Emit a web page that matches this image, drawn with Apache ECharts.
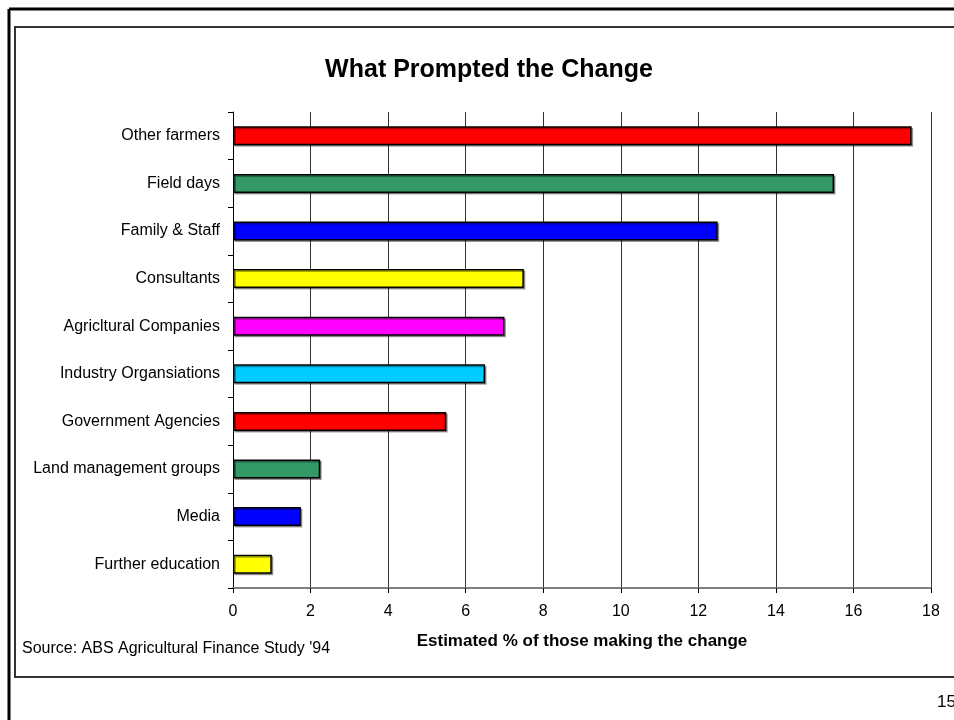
<!DOCTYPE html>
<html>
<head>
<meta charset="utf-8">
<style>
  html, body { margin: 0; padding: 0; background: #fff; }
  #chart { width: 954px; height: 720px; }
</style>
<script src="https://cdn.jsdelivr.net/npm/echarts@6/dist/echarts.min.js"></script>
</head>
<body>
<div id="chart"></div>
<script>
const categories = [
  "Other farmers",
  "Field days",
  "Family & Staff",
  "Consultants",
  "Agricltural Companies",
  "Industry Organsiations",
  "Government Agencies",
  "Land management groups",
  "Media",
  "Further education"
];
const values = [17.5, 15.5, 12.5, 7.5, 7.0, 6.5, 5.5, 2.25, 1.75, 1.0];
const barColors = ["#FF0000", "#339966", "#0000FF", "#FFFF00", "#FF00FF", "#00CCFF", "#FF0000", "#339966", "#0000FF", "#FFFF00"];
const xTicks = { min: 0, max: 18, interval: 2 };
const titleText = "What Prompted the Change";
const xAxisTitle = "Estimated % of those making the change";
const sourceText = "Source: ABS Agricultural Finance Study '94";
const pageNumber = "15";

const FONT = "'Liberation Sans', Arial, sans-serif";
const chart = echarts.init(document.getElementById('chart'), null, { renderer: 'canvas' });

const option = {
  backgroundColor: '#ffffff',
  animation: false,
  title: {
    text: titleText,
    left: 484,
    top: 53,
    textAlign: 'center',
    textStyle: { fontFamily: FONT, fontSize: 25, fontWeight: 'bold', color: '#000' }
  },
  grid: { left: 233, right: 23, top: 112, bottom: 132, containLabel: false },
  xAxis: {
    type: 'value',
    min: xTicks.min,
    max: xTicks.max,
    interval: xTicks.interval,
    position: 'bottom',
    name: xAxisTitle,
    nameLocation: 'middle',
    nameGap: 45,
    nameTextStyle: { fontFamily: FONT, fontSize: 17, fontWeight: 'bold', color: '#000' },
    axisLine: { show: true, lineStyle: { color: '#808080', width: 2 } },
    axisTick: { show: true, length: 5, lineStyle: { color: '#000', width: 1 } },
    axisLabel: { margin: 16, fontFamily: FONT, fontSize: 16, color: '#000' },
    splitLine: { show: true, lineStyle: { color: '#333', width: 1 } }
  },
  yAxis: {
    type: 'category',
    data: categories,
    inverse: true,
    axisLine: { show: true, lineStyle: { color: '#000', width: 1 } },
    axisTick: { show: true, length: 5, inside: false, alignWithLabel: false, lineStyle: { color: '#000' } },
    axisLabel: { margin: 13, fontFamily: FONT, fontSize: 16, color: '#000' },
    splitLine: { show: false }
  },
  series: [{
    type: 'bar',
    barWidth: 19,
    data: values.map((v, i) => ({
      value: v,
      itemStyle: {
        color: barColors[i],
        borderColor: '#000',
        borderWidth: 1.5,
        shadowColor: 'rgba(0,0,0,0.35)',
        shadowOffsetX: 1.5,
        shadowOffsetY: 1.5,
        shadowBlur: 0
      }
    }))
  }],
  graphic: [
    { type: 'line', shape: { x1: 9, y1: 9, x2: 954, y2: 9 }, style: { stroke: '#000', lineWidth: 3 }, z: 10 },
    { type: 'line', shape: { x1: 9, y1: 9, x2: 9, y2: 720 }, style: { stroke: '#000', lineWidth: 3 }, z: 10 },
    { type: 'rect', shape: { x: 15, y: 27, width: 960, height: 650 }, style: { fill: 'none', stroke: '#333', lineWidth: 2 }, z: 10 },
    { type: 'text', left: 22, top: 641, style: { text: sourceText, font: '16px ' + FONT, fill: '#000' }, z: 10 },
    { type: 'text', left: 937, top: 694, style: { text: pageNumber, font: '17px ' + FONT, fill: '#000' }, z: 10 }
  ]
};
chart.setOption(option);
</script>
</body>
</html>
